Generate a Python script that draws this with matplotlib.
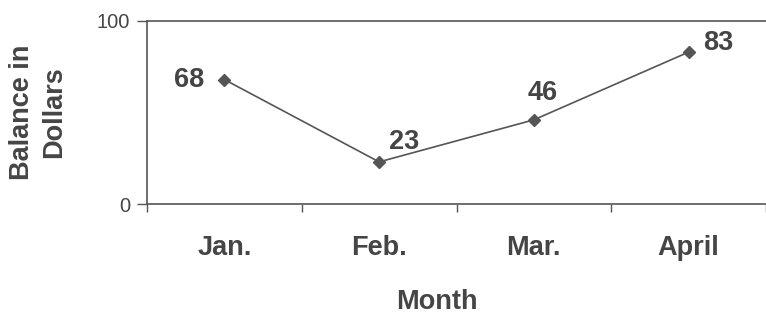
import matplotlib
matplotlib.use('Agg')
import matplotlib.pyplot as plt

plt.rcParams['font.family'] = ['Liberation Sans', 'DejaVu Sans']

months = ['Jan.', 'Feb.', 'Mar.', 'April']
balance = [68, 23, 46, 83]
y_ticks = [0, 100]
# label offsets in pixels relative to each point
label_offsets = [(-35, 0), (25, 20), (9, 27), (30, 9)]

TEXT = '#454545'
LINE = '#555555'

fig = plt.figure(figsize=(7.66, 3.16), dpi=100)
ax = fig.add_axes([147 / 766, 112 / 316, 619 / 766, 183 / 316])

x = list(range(len(months)))
ax.plot(x, balance, color=LINE, linewidth=1.2, marker='D', markersize=6,
        markerfacecolor=LINE, markeredgecolor=LINE, clip_on=False)

for xi, v, (dx, dy) in zip(x, balance, label_offsets):
    ax.annotate(str(v), (xi, v), xytext=(dx, dy), textcoords='offset pixels',
                ha='center', va='center', fontsize=19.5, fontweight='bold',
                color=TEXT)

ax.set_xlim(-0.5, -0.5 + 619 / 156)
ax.set_ylim(0, 100)

# minor ticks at category boundaries, labels at category centres
ax.set_xticks(x)
ax.set_xticklabels(months, fontsize=19.5, fontweight='bold', color=TEXT)
ax.set_xticks([-0.5, 0.5, 1.5, 2.5, 3.5], minor=True)
ax.tick_params(axis='x', which='major', length=0, pad=22)
ax.tick_params(axis='x', which='minor', length=6, width=1, color=LINE,
               direction='out')

ax.set_yticks(y_ticks)
ax.set_yticklabels([str(t) for t in y_ticks], fontsize=14.5, color=TEXT)
ax.tick_params(axis='y', length=7, width=1, color=LINE, pad=5)

ax.spines['right'].set_visible(False)
for side in ['left', 'bottom', 'top']:
    ax.spines[side].set_color(LINE)
    ax.spines[side].set_linewidth(1.2)

fig.text(437 / 766, 1 - 302 / 316, 'Month', ha='center', va='center',
         fontsize=19.5, fontweight='bold', color=TEXT)
fig.text(38 / 766, 1 - 112 / 316, 'Balance in\nDollars', ha='center',
         va='center', rotation=90, fontsize=19.5, fontweight='bold',
         color=TEXT, linespacing=1.3, multialignment='center')

fig.savefig('out.png', dpi=100)
